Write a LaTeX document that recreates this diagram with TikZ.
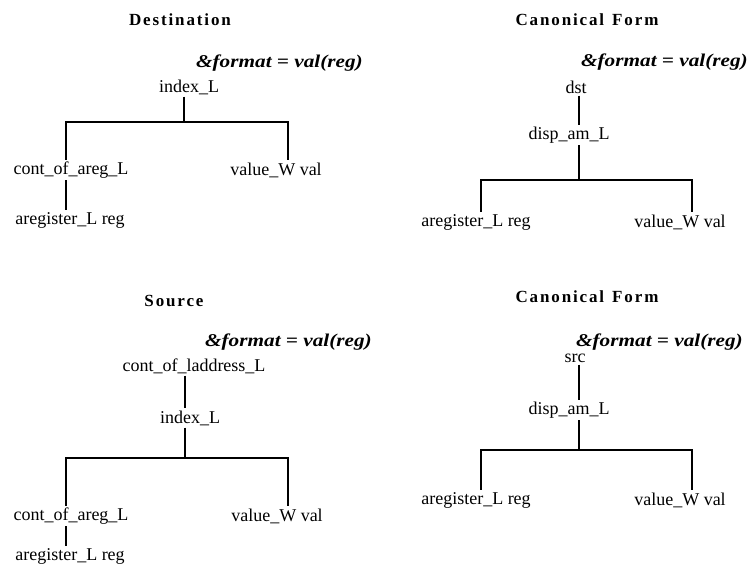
\documentclass[tikz,border=0pt]{standalone}
\usepackage{fontspec}
\setmainfont{Liberation Serif}
\newfontfamily\titlefont[LetterSpace=11]{Liberation Serif}
\newfontfamily\fmtfont[FakeStretch=1.18]{Liberation Serif}
\begin{document}
\begin{tikzpicture}[x=1pt,y=-1pt,
  lbl/.style={font=\fontsize{18}{21}\selectfont, inner sep=2pt},
  ttl/.style={font=\titlefont\bfseries\fontsize{17}{20}\selectfont, inner sep=0pt},
  fmt/.style={font=\fmtfont\bfseries\itshape\fontsize{18}{21}\selectfont, anchor=east, inner sep=0pt},
  edge/.style={line width=2.8pt}]
\useasboundingbox (0,0) rectangle (753,567);

% ---------- top left: Destination ----------
\node[ttl] (t1) at (180,20) {Destination};
\node[fmt] (f1) at (363,63) {\&format = val(reg)};
\node[lbl] (a1) at (189,87) {index\_L};
\coordinate (a1L) at (66,122);
\coordinate (a1J) at (184,122);
\coordinate (a1R) at (288,122);
\node[lbl] (a1A) at (71,170) {cont\_of\_areg\_L};
\node[lbl] (a1B) at (276,170) {value\_W val};
\node[lbl] (a1C) at (70,220) {aregister\_L reg};
\draw[edge] (a1.south -| a1J) -- (a1J);
\draw[edge] (a1A.north -| a1L) -- (a1L) -- (a1R) -- (a1B.north -| a1R);
\draw[edge] (a1A.south -| a1L) -- (a1C.north -| a1L);

% ---------- top right: Canonical Form ----------
\node[ttl] (t2) at (587,20) {Canonical\hspace{8pt}Form};
\node[fmt] (f2) at (748,62) {\&format = val(reg)};
\node[lbl] (b1) at (576,87) {dst};
\node[lbl] (b2) at (569,135) {disp\_am\_L};
\coordinate (b2L) at (481,180);
\coordinate (b2J) at (579,180);
\coordinate (b2R) at (692,180);
\node[lbl] (b2A) at (476,222) {aregister\_L reg};
\node[lbl] (b2B) at (680,222) {value\_W val};
\draw[edge] (b1.south -| b2J) -- (b2.north -| b2J);
\draw[edge] (b2.south -| b2J) -- (b2J);
\draw[edge] (b2A.north -| b2L) -- (b2L) -- (b2R) -- (b2B.north -| b2R);

% ---------- bottom left: Source ----------
\node[ttl] (t3) at (174,301) {Source};
\node[fmt] (f3) at (372,342) {\&format = val(reg)};
\node[lbl] (c1) at (194,366) {cont\_of\_laddress\_L};
\node[lbl] (c2) at (190,418) {index\_L};
\coordinate (c2L) at (66,458);
\coordinate (c2J) at (185,458);
\coordinate (c2R) at (288,458);
\node[lbl] (c2A) at (71,516) {cont\_of\_areg\_L};
\node[lbl] (c2B) at (277,516) {value\_W val};
\node[lbl] (c2C) at (70,556) {aregister\_L reg};
\draw[edge] (c1.south -| c2J) -- (c2.north -| c2J);
\draw[edge] (c2.south -| c2J) -- (c2J);
\draw[edge] (c2A.north -| c2L) -- (c2L) -- (c2R) -- (c2B.north -| c2R);
\draw[edge] (c2A.south -| c2L) -- (c2C.north -| c2L);

% ---------- bottom right: Canonical Form ----------
\node[ttl] (t4) at (587,297) {Canonical\hspace{8pt}Form};
\node[fmt] (f4) at (743,342) {\&format = val(reg)};
\node[lbl] (d1) at (575,358) {src};
\node[lbl] (d2) at (569,410) {disp\_am\_L};
\coordinate (d2L) at (481,450);
\coordinate (d2J) at (579,450);
\coordinate (d2R) at (692,450);
\node[lbl] (d2A) at (476,500) {aregister\_L reg};
\node[lbl] (d2B) at (680,500) {value\_W val};
\draw[edge] (d1.south -| d2J) -- (d2.north -| d2J);
\draw[edge] (d2.south -| d2J) -- (d2J);
\draw[edge] (d2A.north -| d2L) -- (d2L) -- (d2R) -- (d2B.north -| d2R);
\end{tikzpicture}
\end{document}
